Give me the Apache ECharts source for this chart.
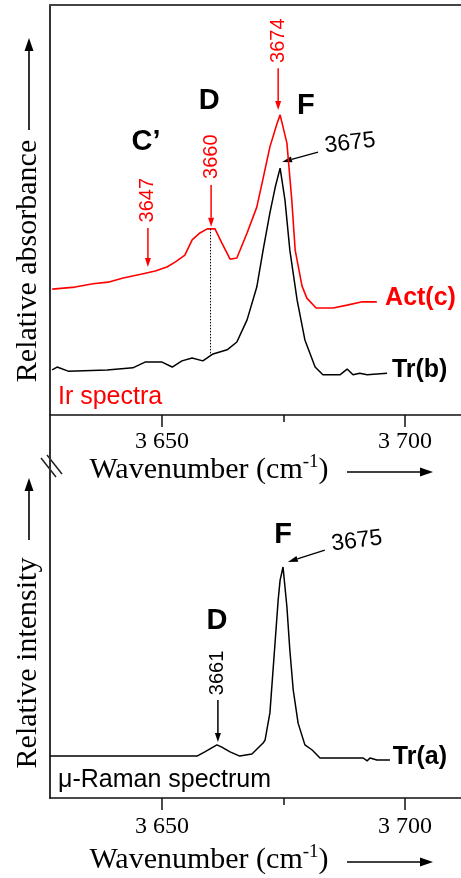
<!DOCTYPE html>
<html><head><meta charset="utf-8">
<script src="https://cdn.jsdelivr.net/npm/echarts@6/dist/echarts.min.js"></script>
<style>html,body{margin:0;padding:0;background:#fff}#c{width:461px;height:878px}</style>
</head><body><div id="c"></div>
<script>
// ---- data ----
const actWavenumber = [3627.4,3632.1,3635.8,3638.9,3642.0,3645.9,3648.6,3651.0,3652.7,3654.7,3656.2,3657.8,3659.3,3660.9,3662.3,3664.0,3665.4,3667.5,3669.5,3670.6,3672.2,3673.7,3674.3,3675.7,3676.7,3677.4,3678.8,3679.8,3681.7,3685.2,3688.1,3691.2,3694.2];
const actAbsorbance = [30.7,31.2,32.0,32.4,33.4,34.4,35.1,36.1,37.3,39.0,42.7,44.4,45.4,45.4,42.0,38.0,38.3,44.4,50.7,56.6,65.4,71.2,73.2,66.3,52.4,40.2,31.5,28.5,26.1,26.1,26.8,27.6,27.6];
const trbWavenumber = [3627.4,3628.4,3630.7,3638.7,3644.0,3646.5,3650.0,3652.1,3654.1,3656.2,3658.4,3660.5,3663.4,3665.4,3667.5,3669.5,3670.8,3672.2,3673.3,3674.3,3675.3,3676.3,3677.8,3679.4,3681.5,3683.1,3686.6,3688.1,3689.3,3690.7,3692.2,3696.3];
const trbAbsorbance = [11.0,11.7,10.7,11.0,11.5,12.9,12.9,11.7,13.2,13.9,13.2,14.9,15.9,17.8,23.2,31.2,40.2,49.3,55.6,60.2,52.4,40.2,28.0,18.3,11.7,9.8,9.8,11.2,9.8,10.2,9.8,10.2];
const traWavenumber = [3627.0,3657.2,3658.8,3661.3,3662.3,3664.0,3666.0,3668.5,3670.8,3671.2,3672.2,3673.3,3673.9,3674.3,3674.9,3675.7,3676.3,3677.0,3678.0,3679.4,3680.9,3682.5,3691.4,3692.2,3692.8,3694.2,3696.9];
const traIntensity = [13.1,13.1,14.4,16.6,15.9,14.4,13.1,13.75,17.2,18.1,26.6,49.4,61.9,68.1,72.2,59.7,46.25,33.75,23.4,16.6,15.0,12.5,12.5,11.6,12.5,11.9,11.9];
const majorTicks = [3650, 3700];
const minorTicks = [3675];
const tickLabels = ['3 650', '3 700'];

const XMIN = 3626.95, XMAX = 3711.52;
const zip = (a, b) => a.map((v, i) => [v, b[i]]);
const SERIF = 'Liberation Serif', SANS = 'Liberation Sans';

const chart = echarts.init(document.getElementById('c'), null, {renderer: 'canvas'});

function xAxes(gi, margin) {
  return [
    {gridIndex: gi, type: 'value', min: XMIN, max: XMAX, position: 'bottom',
     axisLine: {show: true, lineStyle: {color: '#111', width: 1.5}},
     axisTick: {show: true, customValues: majorTicks, length: 12, lineStyle: {color: '#111', width: 1.5}},
     axisLabel: {show: true, customValues: majorTicks, margin: margin,
       formatter: v => tickLabels[majorTicks.indexOf(v)] || '',
       fontFamily: SERIF, fontSize: 24, color: '#000'},
     splitLine: {show: false}},
    {gridIndex: gi, type: 'value', min: XMIN, max: XMAX, position: 'bottom',
     axisLine: {show: false},
     axisTick: {show: true, customValues: minorTicks, length: 7, lineStyle: {color: '#111', width: 1.5}},
     axisLabel: {show: false}, splitLine: {show: false}}
  ];
}

const option = {
  animation: false,
  grid: [
    {left: 50, right: 0, top: 5, height: 410},
    {left: 50, right: 0, top: 415, bottom: 80}
  ],
  xAxis: [
    ...xAxes(0, 15),
    {gridIndex: 0, type: 'value', min: XMIN, max: XMAX, position: 'top',
     axisLine: {show: true, lineStyle: {color: '#444', width: 2}}, axisTick: {show: false}, axisLabel: {show: false}, splitLine: {show: false}},
    ...xAxes(1, 17)
  ],
  yAxis: [
    {gridIndex: 0, type: 'value', min: 0, max: 100,
     axisLine: {show: true, lineStyle: {color: '#333', width: 2}}, axisTick: {show: false}, axisLabel: {show: false}, splitLine: {show: false}},
    {gridIndex: 1, type: 'value', min: 0, max: 119.7,
     axisLine: {show: true, lineStyle: {color: '#333', width: 2}}, axisTick: {show: false}, axisLabel: {show: false}, splitLine: {show: false}}
  ],
  series: [
    {name: 'Act(c)', type: 'line', xAxisIndex: 0, yAxisIndex: 0, showSymbol: false, silent: true,
     data: zip(actWavenumber, actAbsorbance), lineStyle: {color: '#ff0000', width: 1.6},
     markLine: {silent: true, symbol: ['none', 'none'], label: {show: false},
       lineStyle: {color: '#000', type: [1.5, 1.5], width: 1},
       data: [[{coord: [3660, 45.4]}, {coord: [3660, 14.4]}]]}},
    {name: 'Tr(b)', type: 'line', xAxisIndex: 0, yAxisIndex: 0, showSymbol: false, silent: true,
     data: zip(trbWavenumber, trbAbsorbance), lineStyle: {color: '#000', width: 1.5}},
    {name: 'Tr(a)', type: 'line', xAxisIndex: 3, yAxisIndex: 1, showSymbol: false, silent: true,
     data: zip(traWavenumber, traIntensity), lineStyle: {color: '#000', width: 1.5}}
  ]
};
chart.setOption(option);

// ---- annotations ----
const P0 = p => chart.convertToPixel({seriesIndex: 0}, p);
const P2 = p => chart.convertToPixel({seriesIndex: 2}, p);
const els = [];
function arrow(a, b, color, hl, hw, lw) {
  const dx = b[0] - a[0], dy = b[1] - a[1], L = Math.hypot(dx, dy);
  const ux = dx / L, uy = dy / L, nx = -uy, ny = ux;
  const bx = b[0] - ux * hl, by = b[1] - uy * hl;
  els.push({type: 'line', silent: true, shape: {x1: a[0], y1: a[1], x2: bx, y2: by}, style: {stroke: color, lineWidth: lw}});
  els.push({type: 'polygon', silent: true, shape: {points: [[b[0], b[1]], [bx + nx * hw / 2, by + ny * hw / 2], [bx - nx * hw / 2, by - ny * hw / 2]]}, style: {fill: color}});
}
function text(p, str, o) {
  els.push({type: 'text', silent: true, x: p[0], y: p[1], rotation: o.rot || 0, scaleX: o.sx || 1, scaleY: o.sy || 1,
    style: {text: str, fill: o.color || '#000', fontFamily: o.family || SANS, fontSize: o.size, fontWeight: o.weight || 'normal',
      align: o.align || 'center', verticalAlign: 'middle', rich: o.rich}});
}
const R90 = Math.PI / 2;

// red peak markers (IR Act(c))
const redMarks = [
  {label: '3674', at: [3673.9, 91.3], from: [3673.9, 84.6], to: [3673.9, 74.4]},
  {label: '3660', at: [3660.1, 63.0], from: [3660.1, 56.1], to: [3660.1, 45.9]},
  {label: '3647', at: [3647.1, 52.4], from: [3647.1, 45.6], to: [3647.1, 36.1]}
];
redMarks.forEach(m => {
  text(P0(m.at), m.label, {size: 20, color: '#ff0000', rot: R90});
  arrow(P0(m.from), P0(m.to), '#ff0000', 9, 6, 1.5);
});
text(P0([3646.7, 66.5]), 'C\u2019', {size: 29, weight: 'bold'});
text(P0([3659.7, 76.6]), 'D', {size: 29, weight: 'bold'});
text(P0([3679.6, 75.4]), 'F', {size: 29, weight: 'bold'});
arrow(P0([3682.1, 64.1]), P0([3674.7, 61.7]), '#000', 10, 6, 1.3);
text(P0([3688.7, 66.3]), '3675', {size: 23, rot: 7 * Math.PI / 180});
text(P0([3695.9, 28.5]), 'Act(c)', {size: 25, weight: 'bold', color: '#ff0000', align: 'left'});
text(P0([3697.3, 11.0]), 'Tr(b)', {size: 25, weight: 'bold', align: 'left'});

// Raman Tr(a)
text(P2([3674.9, 82.2]), 'F', {size: 29, weight: 'bold'});
arrow(P2([3683.5, 77.5]), P2([3675.9, 73.75]), '#000', 10, 6, 1.3);
text(P2([3690.1, 80.3]), '3675', {size: 23, rot: 7 * Math.PI / 180});
text(P2([3661.3, 55.3]), 'D', {size: 29, weight: 'bold'});
text(P2([3661.5, 39.1]), '3661', {size: 20, rot: R90});
arrow(P2([3661.5, 30.6]), P2([3661.5, 17.5]), '#000', 9, 6, 1.5);
text(P2([3697.5, 12.8]), 'Tr(a)', {size: 25, weight: 'bold', align: 'left'});

// panel labels
text([58, 397], 'Ir spectra', {size: 25, color: '#ff0000', align: 'left'});
text([58, 780], '\u03bc-Raman spectrum', {size: 25, align: 'left'});

// axis titles
const wnRich = {a: {fontFamily: SERIF, fontSize: 30, color: '#000', lineHeight: 34}, s: {fontFamily: SERIF, fontSize: 19, color: '#000', verticalAlign: 'top', lineHeight: 34}};
text([209, 470], '{a|Wavenumber (cm}{s|-1}{a|)}', {size: 30, family: SERIF, rich: wnRich});
text([209, 860], '{a|Wavenumber (cm}{s|-1}{a|)}', {size: 30, family: SERIF, rich: wnRich});
arrow([347, 472], [433, 472], '#000', 13, 9, 1.6);
arrow([347, 862], [433, 862], '#000', 13, 9, 1.6);
text([28, 261], 'Relative absorbance', {size: 30, family: SERIF, rot: R90});
text([28, 663], 'Relative intensity', {size: 30, family: SERIF, rot: R90});
arrow([29, 130], [29, 38], '#000', 13, 9, 1.6);
arrow([29, 540], [29, 478], '#000', 13, 9, 1.6);

// axis break marks
els.push({type: 'line', silent: true, shape: {x1: 41, y1: 458, x2: 56, y2: 477}, style: {stroke: '#222', lineWidth: 1.5}});
els.push({type: 'line', silent: true, shape: {x1: 47, y1: 455, x2: 62, y2: 474}, style: {stroke: '#222', lineWidth: 1.5}});

chart.setOption({graphic: {elements: els}});
</script></body></html>
